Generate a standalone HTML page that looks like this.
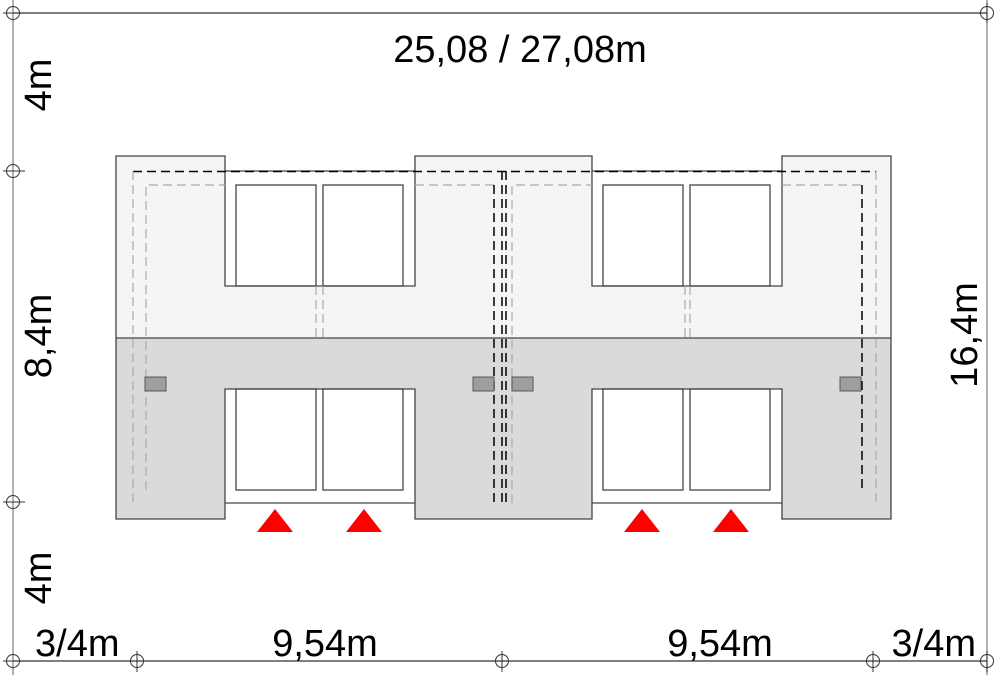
<!DOCTYPE html>
<html><head><style>html,body{margin:0;padding:0;background:#fff}svg{display:block}text{font-family:"Liberation Sans",sans-serif;fill:#000}</style></head><body>
<svg width="1000" height="675" viewBox="0 0 1000 675">
<line x1="13" y1="13" x2="987" y2="13" stroke="#333" stroke-width="1.3"/>
<line x1="13" y1="661" x2="987" y2="661" stroke="#333" stroke-width="1.3"/>
<line x1="13" y1="0" x2="13" y2="675" stroke="#888" stroke-width="1.3"/>
<line x1="987" y1="0" x2="987" y2="675" stroke="#888" stroke-width="1.3"/>
<g fill="none" stroke="#333" stroke-width="1">
<circle cx="13" cy="13" r="6.5"/><circle cx="13" cy="171" r="6.5"/><circle cx="13" cy="502" r="6.5"/><circle cx="13" cy="661" r="6.5"/>
<circle cx="987" cy="13" r="6.5"/><circle cx="987" cy="661" r="6.5"/>
<circle cx="137" cy="661" r="6.5"/><circle cx="502" cy="661" r="6.5"/><circle cx="873" cy="661" r="6.5"/>
<line x1="3" y1="13" x2="25" y2="13"/><line x1="3" y1="171" x2="25" y2="171"/><line x1="3" y1="502" x2="25" y2="502"/><line x1="3" y1="661" x2="25" y2="661"/>
<line x1="137" y1="651" x2="137" y2="672"/><line x1="502" y1="651" x2="502" y2="672"/><line x1="873" y1="651" x2="873" y2="672"/>
<line x1="987" y1="3" x2="987" y2="23"/><line x1="987" y1="651" x2="987" y2="672"/>
</g>
<rect x="116" y="156" width="109" height="182" fill="#f5f5f5"/>
<rect x="415" y="156" width="177" height="182" fill="#f5f5f5"/>
<rect x="782" y="156" width="109" height="182" fill="#f5f5f5"/>
<rect x="225" y="286" width="190" height="52" fill="#f5f5f5"/>
<rect x="592" y="286" width="190" height="52" fill="#f5f5f5"/>
<rect x="116" y="338" width="775" height="51" fill="#dadada"/>
<rect x="116" y="389" width="109" height="130" fill="#dadada"/>
<rect x="415" y="389" width="177" height="130" fill="#dadada"/>
<rect x="782" y="389" width="109" height="130" fill="#dadada"/>
<g fill="none" stroke="#444" stroke-width="1.3">
<path d="M116 519 V156 H225 V286 H415 V156 H592 V286 H782 V156 H891 V519 H782 V389 H592 V519 H415 V389 H225 V519 Z"/>
<line x1="116" y1="338" x2="891" y2="338"/>
<path d="M225 171 H415 M592 171 H782 M225 503 H415 M592 503 H782"/>
<rect x="236" y="185" width="80" height="101"/><rect x="323" y="185" width="80" height="101"/>
<rect x="603" y="185" width="80" height="101"/><rect x="690" y="185" width="80" height="101"/>
<rect x="236" y="389" width="80" height="101"/><rect x="323" y="389" width="80" height="101"/>
<rect x="603" y="389" width="80" height="101"/><rect x="690" y="389" width="80" height="101"/>
</g>
<g fill="none" stroke-dasharray="9,5">
<path d="M133 171.5 H876" stroke="#000" stroke-width="1.5"/>
<path d="M133 171 V503 M146 490 V185 H225 M876 171 V503 M782 185 H862 M512 503 V185 H592 M415 185 H494 M323 286 V338 M316 286 V338 M685 286 V338 M690 286 V338" stroke="#aaa" stroke-width="1.2"/>
<path d="M862 185 V490 M494 185 V503 M502 171 V503 M506 171 V503" stroke="#000" stroke-width="1.5"/>
</g>
<g fill="#9e9e9e" stroke="#555" stroke-width="1">
<rect x="145" y="377" width="21" height="14"/><rect x="473" y="377" width="21" height="14"/>
<rect x="512" y="377" width="21" height="14"/><rect x="840" y="377" width="21" height="14"/>
</g>
<g fill="#ff0000">
<polygon points="257,532 275,509 293,532"/><polygon points="346,532 364,509 382,532"/>
<polygon points="624,532 642,509 660,532"/><polygon points="713,532 731,509 749,532"/>
</g>
<text x="520" y="62" font-size="38" text-anchor="middle">25,08 / 27,08m</text>
<text x="35" y="656" font-size="38">3/4m</text>
<text x="325" y="656" font-size="38" text-anchor="middle">9,54m</text>
<text x="720" y="656" font-size="38" text-anchor="middle">9,54m</text>
<text x="976" y="656" font-size="38" text-anchor="end">3/4m</text>
<text transform="translate(51,85) rotate(-90)" font-size="38" text-anchor="middle">4m</text>
<text transform="translate(51,336) rotate(-90)" font-size="38" text-anchor="middle">8,4m</text>
<text transform="translate(51,578) rotate(-90)" font-size="38" text-anchor="middle">4m</text>
<text transform="translate(977,335) rotate(-90)" font-size="38" text-anchor="middle">16,4m</text>
</svg>
</body></html>
